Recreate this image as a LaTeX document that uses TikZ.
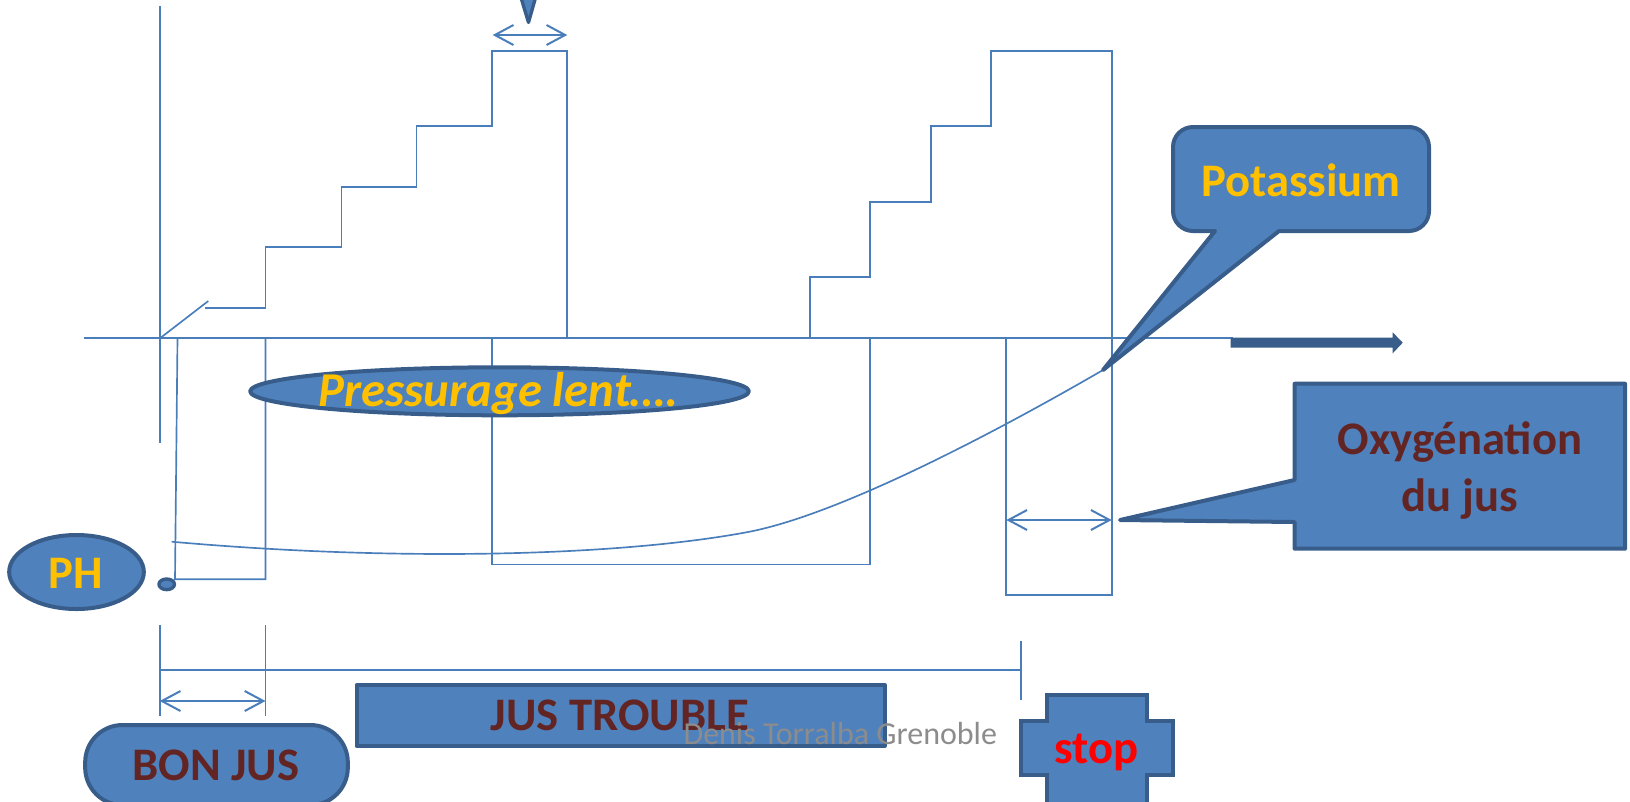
\documentclass[tikz,border=0pt]{standalone}
\usepackage{fontspec}
\setmainfont{Carlito}
\usetikzlibrary{arrows.meta,shapes.geometric}

\definecolor{lineblue}{HTML}{4A7EBB}
\definecolor{fillblue}{HTML}{4F81BD}
\definecolor{edgeblue}{HTML}{385D8A}
\definecolor{gold}{HTML}{FFC000}
\definecolor{maroon}{HTML}{632523}
\definecolor{stopred}{HTML}{FF0000}
\definecolor{wmgray}{HTML}{8C8C8C}

\begin{document}
\begin{tikzpicture}[x=0.75pt,y=-0.75pt,
  gridline/.style={draw=lineblue,line width=1.25pt},
  dimarrow/.style={draw=lineblue,line width=1.5pt,
    {Straight Barb[length=14pt,width=15pt]}-{Straight Barb[length=14pt,width=15pt]}},
  shapebox/.style={fill=fillblue,draw=edgeblue,line width=3pt,line join=round},
  pill/.style={shapebox,ellipse,inner sep=0pt},
  biglabel/.style={font=\fontsize{35}{43}\selectfont\bfseries,inner sep=0pt},
]
\useasboundingbox (0,0) rectangle (1630,801);

% axes
\coordinate (yaxtop) at (159.7,6);
\coordinate (yaxbot) at (159.7,443);
\coordinate (xaxl) at (84,338);
\coordinate (xaxr) at (1233,338);
\draw[gridline] (yaxtop) -- (yaxbot);
\draw[gridline] (xaxl) -- (xaxr);
\fill[edgeblue] (1230.7,337.7) -- (1392.7,337.7) -- (1392.7,332.3) -- (1402.7,342.7)
  -- (1392.7,353.3) -- (1392.7,347.7) -- (1230.7,347.7) -- cycle;

% first pressing: rising steps
\draw[gridline] (160.7,337.7) -- (208.3,301);
\draw[gridline] (205,307.7) -- (265.5,307.7) -- (265.5,247) -- (341.5,247) -- (341.5,187)
  -- (416.5,187) -- (416.5,126) -- (492.3,126) -- (492.3,50.7) -- (567.3,50.7) -- (567.3,338);

% second pressing: rising steps
\draw[gridline] (809.8,338) -- (809.8,277) -- (870,277) -- (870,201.7) -- (930.8,201.7)
  -- (930.8,126) -- (991,126) -- (991,50.7) -- (1111.7,50.7) -- (1111.7,595)
  -- (1006.3,595) -- (1006.3,338);

% pauses below the axis
\draw[gridline] (177.5,338) -- (175,579.3) -- (265.5,579.3) -- (265.5,338);
\draw[gridline] (492.3,338) -- (492.3,564.5) -- (870,564.5) -- (870,338);

% pH curve
\coordinate (phstart) at (171.7,541.7);
\coordinate (phmid) at (748,532);
\coordinate (phend) at (1103,370);
\draw[gridline] (phstart) .. controls (400,562) and (620,556) .. (phmid)
  .. controls (848,513) and (1022,417) .. (phend);

% duration markers
\coordinate (goodl) at (159.7,701);
\coordinate (goodr) at (265.5,701);
\draw[gridline] (159.7,625) -- (159.7,716);
\draw[gridline] (265.5,625) -- (265.5,716);
\draw[gridline] (159.7,670) -- (1020.8,670);
\draw[gridline] (1020.8,640.7) -- (1020.8,700);
\draw[dimarrow] (goodl) -- (goodr);
\coordinate (topl) at (492.7,35);
\coordinate (topr) at (567.3,35);
\draw[dimarrow] (topl) -- (topr);
\coordinate (oxl) at (1006.3,520);
\coordinate (oxr) at (1111.7,520);
\draw[dimarrow] (oxl) -- (oxr);

% pointer tip coming from above
\filldraw[fill=fillblue,draw=edgeblue,line width=2.5pt,line join=round]
  (520.5,-4) -- (536,-4) -- (528.5,22.5) -- cycle;

% callout: Potassium
\filldraw[shapebox] (1279,231) -- (1409,231) .. controls (1420,231) and (1429,222) .. (1429,211)
  -- (1429,147) .. controls (1429,136) and (1420,127) .. (1409,127)
  -- (1193,127) .. controls (1182,127) and (1173,136) .. (1173,147)
  -- (1173,211) .. controls (1173,222) and (1182,231) .. (1193,231)
  -- (1215,231) -- (phend) -- cycle;
\node[biglabel,text=gold,anchor=base] (potassium) at (1301,196.7) {Potassium};

% callout: oxygenation
\filldraw[shapebox] (1294.6,480) -- (1294.6,383.7) -- (1625,383.7) -- (1625,548.7)
  -- (1294.6,548.7) -- (1294.6,522) -- (1120,520) -- cycle;
\node[biglabel,text=maroon,align=center,anchor=base] (oxy) at (1460,511.7) {Oxygénation\\du jus};

% labelled shapes
\node[pill,minimum width=374pt,minimum height=36pt] (press) at (499.5,391.3) {};
\node[biglabel,font=\fontsize{36.5}{43}\selectfont\bfseries\itshape,text=gold,anchor=base]
  (presstxt) at (498.6,406.7) {Pressurage lent….};

\node[pill,minimum width=101pt,minimum height=55.5pt] (ph) at (76.5,572) {};
\node[biglabel,text=gold,anchor=base] (phtxt) at (76,588.3) {PH};

\node[shapebox,ellipse,inner sep=0pt,line width=2.5pt,minimum width=11.7pt,minimum height=8pt]
  (dot) at (166.7,584.3) {};

\node[shapebox,rectangle,inner sep=0pt,minimum width=396pt,minimum height=45.75pt]
  (trouble) at (620.5,715.5) {};
\node[biglabel,text=maroon,anchor=base] (troubletxt) at (620,730.7) {JUS TROUBLE};

\node[shapebox,rectangle,rounded corners=28pt,inner sep=0pt,minimum width=197pt,minimum height=60pt]
  (bon) at (216.5,765) {};
\node[biglabel,text=maroon,anchor=base] (bontxt) at (216,780) {BON JUS};

\filldraw[shapebox,line join=miter] (1047.4,695) -- (1146.6,695) -- (1146.6,721) -- (1172.6,721)
  -- (1172.6,775) -- (1146.6,775) -- (1146.6,806) -- (1047.4,806) -- (1047.4,775)
  -- (1021.4,775) -- (1021.4,721) -- (1047.4,721) -- cycle;
\node[biglabel,text=stopred,anchor=base] (stoptxt) at (1096.6,763.3) {stop};

\node[font=\fontsize{24}{29}\selectfont,text=wmgray,anchor=base west,inner sep=0pt]
  (author) at (683.3,744) {Denis Torralba Grenoble};
\end{tikzpicture}
\end{document}
